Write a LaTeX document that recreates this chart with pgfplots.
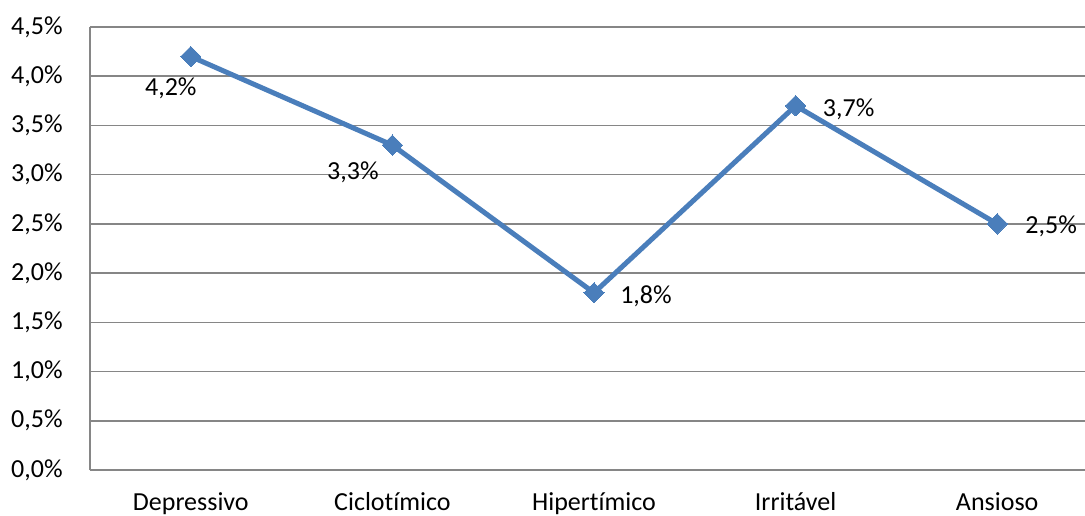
\documentclass[border=0pt]{standalone}
\usepackage{pgfplots}
\pgfplotsset{compat=1.18}
\usepackage{pgfplotstable}
\usepackage{fontspec}
\setmainfont{Carlito}[Ligatures=NoCommon]

\definecolor{serieblue}{RGB}{74,126,187}
\definecolor{gridgray}{RGB}{134,134,134}

% x, valor (%), deslocamento do rotulo em pt
\pgfplotstableread{
x  y    dx      dy
0  4.2  -10     -15.25
1  3.3  -19.75  -12.5
2  1.8  26      -0.75
3  3.7  26.5    -0.75
4  2.5  27      -0.5
}\dados

\begin{document}
\fontsize{13}{15}\selectfont
\begin{tikzpicture}
\clip (-45pt,-22.5pt) rectangle (497.5pt,235pt);
\begin{axis}[
  at={(0,0)}, anchor=south west,
  scale only axis,
  width=504pt, height=221.5pt,
  xmin=-0.5, xmax=4.5,
  ymin=0, ymax=4.5,
  axis x line*=bottom, axis y line*=left,
  axis line style={gridgray, line width=0.75pt, -},
  xtick={0,1,2,3,4},
  xticklabels={Depressivo,Ciclotímico,Hipertímico,Irritável,Ansioso},
  ytick={0,0.5,...,4.5},
  major tick length=0pt,
  ymajorgrids,
  major grid style={gridgray, line width=0.75pt},
  yticklabel={\pgfmathprintnumber{\tick}\%},
  /pgf/number format/.cd, fixed, fixed zerofill, precision=1, use comma, assume math mode=true,
  /pgfplots/.cd,
  yticklabel style={anchor=east, inner sep=0pt, xshift=-13.5pt},
  xticklabel style={anchor=base, inner sep=0pt, yshift=-20pt},
  tick label style={font=\fontsize{13}{15}\selectfont},
  clip=false,
]
\addplot[serieblue, line width=2.5pt, mark=square*,
  mark options={rotate=45, mark size=3.6pt, line width=0pt},
  visualization depends on={\thisrow{dx} \as \dx},
  visualization depends on={\thisrow{dy} \as \dy},
  nodes near coords={\pgfmathprintnumber[fixed,fixed zerofill,precision=1,use comma,assume math mode=true]{\pgfplotspointmeta}\%},
  point meta=explicit,
  every node near coord/.append style={black, anchor=center, inner sep=0pt, text depth=0pt,
    xshift=\dx pt, yshift=\dy pt, font=\fontsize{13}{15}\selectfont},
] table[x=x, y=y, meta=y] {\dados};
\end{axis}
\end{tikzpicture}
\end{document}
